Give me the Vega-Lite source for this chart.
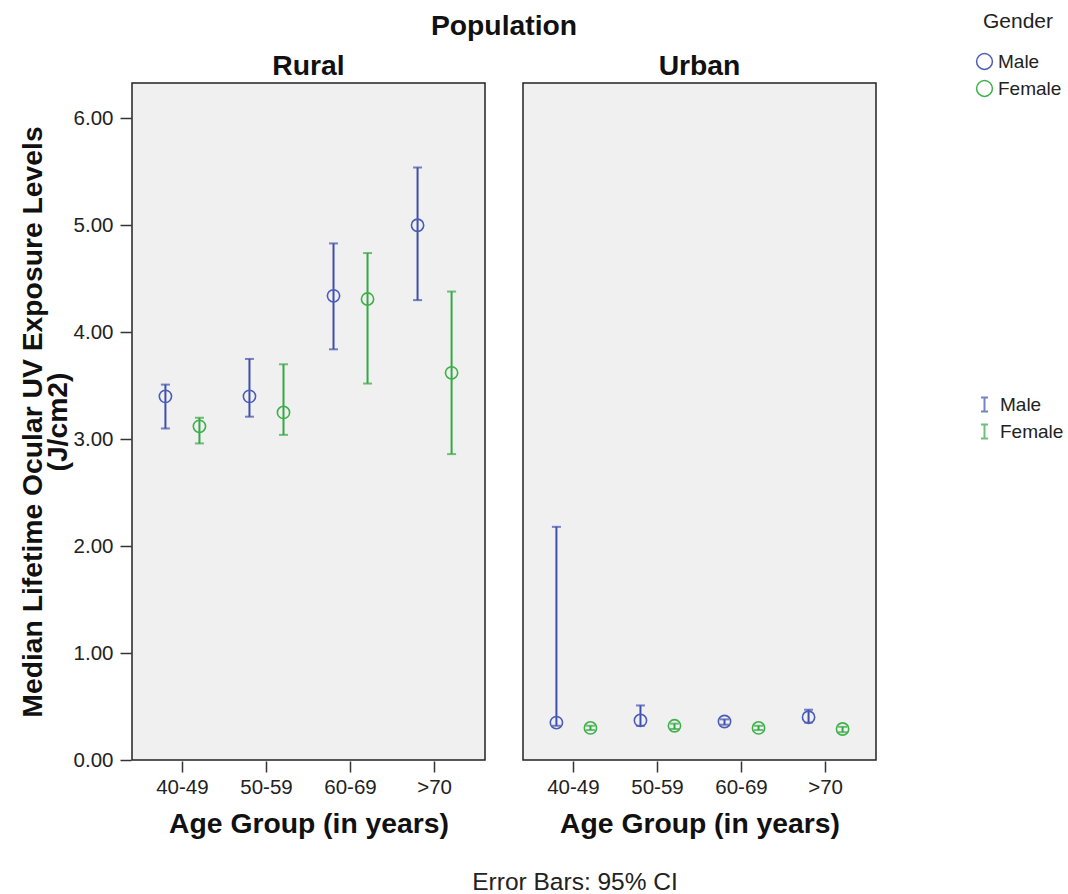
{
  "$schema": "https://vega.github.io/schema/vega-lite/v6.json",
  "padding": {"left": 18, "top": 11, "right": 5, "bottom": 2},
  "background": "white",
  "config": {
    "font": "Liberation Sans",
    "view": {"fill": "#F0F0F0", "stroke": "#222222", "strokeWidth": 1.5},
    "axis": {"domain": false, "grid": false, "tickColor": "#333333", "tickWidth": 1.5, "tickSize": 11, "labelColor": "#222222", "labelFontSize": 20.5, "titleColor": "#111111", "titleFontSize": 28.3, "titleFontWeight": "bold"}
  },
  "title": {"text": "Error Bars: 95% CI", "orient": "bottom", "anchor": "middle", "fontSize": 24.5, "fontWeight": "normal", "color": "#222222", "offset": 33, "dx": 34},
  "data": {"values": [
    {"Population": "Rural", "Age": "40-49", "Gender": "Male", "median": 3.40, "lo": 3.10, "hi": 3.51},
    {"Population": "Rural", "Age": "40-49", "Gender": "Female", "median": 3.12, "lo": 2.96, "hi": 3.20},
    {"Population": "Rural", "Age": "50-59", "Gender": "Male", "median": 3.40, "lo": 3.21, "hi": 3.75},
    {"Population": "Rural", "Age": "50-59", "Gender": "Female", "median": 3.25, "lo": 3.04, "hi": 3.70},
    {"Population": "Rural", "Age": "60-69", "Gender": "Male", "median": 4.34, "lo": 3.84, "hi": 4.83},
    {"Population": "Rural", "Age": "60-69", "Gender": "Female", "median": 4.31, "lo": 3.52, "hi": 4.74},
    {"Population": "Rural", "Age": ">70", "Gender": "Male", "median": 5.00, "lo": 4.30, "hi": 5.54},
    {"Population": "Rural", "Age": ">70", "Gender": "Female", "median": 3.62, "lo": 2.86, "hi": 4.38},
    {"Population": "Urban", "Age": "40-49", "Gender": "Male", "median": 0.35, "lo": 0.32, "hi": 2.18},
    {"Population": "Urban", "Age": "40-49", "Gender": "Female", "median": 0.30, "lo": 0.28, "hi": 0.32},
    {"Population": "Urban", "Age": "50-59", "Gender": "Male", "median": 0.37, "lo": 0.32, "hi": 0.51},
    {"Population": "Urban", "Age": "50-59", "Gender": "Female", "median": 0.32, "lo": 0.29, "hi": 0.34},
    {"Population": "Urban", "Age": "60-69", "Gender": "Male", "median": 0.36, "lo": 0.33, "hi": 0.38},
    {"Population": "Urban", "Age": "60-69", "Gender": "Female", "median": 0.30, "lo": 0.28, "hi": 0.32},
    {"Population": "Urban", "Age": ">70", "Gender": "Male", "median": 0.40, "lo": 0.35, "hi": 0.47},
    {"Population": "Urban", "Age": ">70", "Gender": "Female", "median": 0.29, "lo": 0.26, "hi": 0.31}
  ]},
  "facet": {
    "column": {
      "field": "Population", "type": "nominal", "sort": ["Rural", "Urban"],
      "title": "Population",
      "header": {"titleFontSize": 28.3, "titleFontWeight": "bold", "titleColor": "#111111", "titlePadding": 0, "labelFontSize": 28.3, "labelFontWeight": "bold", "labelColor": "#111111", "labelPadding": 1}
    }
  },
  "spacing": 36,
  "spec": {
    "width": 353,
    "height": 677,
    "encoding": {
      "x": {
        "field": "Age", "type": "ordinal", "sort": ["40-49", "50-59", "60-69", ">70"],
        "title": "Age Group (in years)",
        "scale": {"paddingInner": 0, "paddingOuter": 0.1},
        "axis": {"labelAngle": 0, "labelPadding": 5, "titlePadding": 13}
      },
      "xOffset": {
        "field": "Gender", "type": "nominal", "sort": ["Male", "Female"],
        "scale": {"domain": ["Male", "Female"], "paddingInner": 0, "paddingOuter": 0.235}
      }
    },
    "layer": [
      {
        "mark": {"type": "rule", "strokeWidth": 2},
        "encoding": {
          "y": {"field": "lo", "type": "quantitative"},
          "y2": {"field": "hi"},
          "color": {
            "field": "Gender", "type": "nominal",
            "scale": {"domain": ["Male", "Female"], "range": ["#3D4FAE", "#33A843"]},
            "legend": {"title": null, "orient": "none", "legendX": 843, "legendY": 312, "labelFontSize": 19, "labelColor": "#222222", "symbolType": "M-0.5,-1H0.5M0,-1V1M-0.5,1H0.5", "symbolSize": 196, "symbolStrokeWidth": 2, "rowPadding": 4, "labelOffset": 6}
          }
        }
      },
      {
        "mark": {"type": "tick", "thickness": 2, "size": 9},
        "encoding": {
          "y": {"field": "lo", "type": "quantitative"},
          "color": {"field": "Gender", "type": "nominal"}
        }
      },
      {
        "mark": {"type": "tick", "thickness": 2, "size": 9},
        "encoding": {
          "y": {"field": "hi", "type": "quantitative"},
          "color": {"field": "Gender", "type": "nominal"}
        }
      },
      {
        "mark": {"type": "point", "filled": false, "size": 150, "strokeWidth": 1.6, "opacity": 1},
        "encoding": {
          "y": {
            "field": "median", "type": "quantitative",
            "title": ["Median Lifetime Ocular UV Exposure Levels", "(J/cm2)"],
            "scale": {"domain": [0, 6.33], "nice": false, "zero": true},
            "axis": {"values": [0, 1, 2, 3, 4, 5, 6], "format": ".2f", "labelPadding": 7, "titlePadding": 1, "titleLineHeight": 25}
          },
          "stroke": {
            "field": "Gender", "type": "nominal", "sort": "descending",
            "scale": {"range": ["#4A5BB8", "#3DB04A"]},
            "legend": {"title": "Gender", "orient": "none", "legendX": 843, "legendY": -72, "titleAnchor": "middle", "titleFontSize": 21, "titleFontWeight": "normal", "titleColor": "#222222", "titlePadding": 20, "labelFontSize": 19, "labelColor": "#222222", "symbolSize": 250, "symbolStrokeWidth": 1.5, "rowPadding": 4, "labelOffset": 4}
          }
        }
      }
    ]
  }
}
